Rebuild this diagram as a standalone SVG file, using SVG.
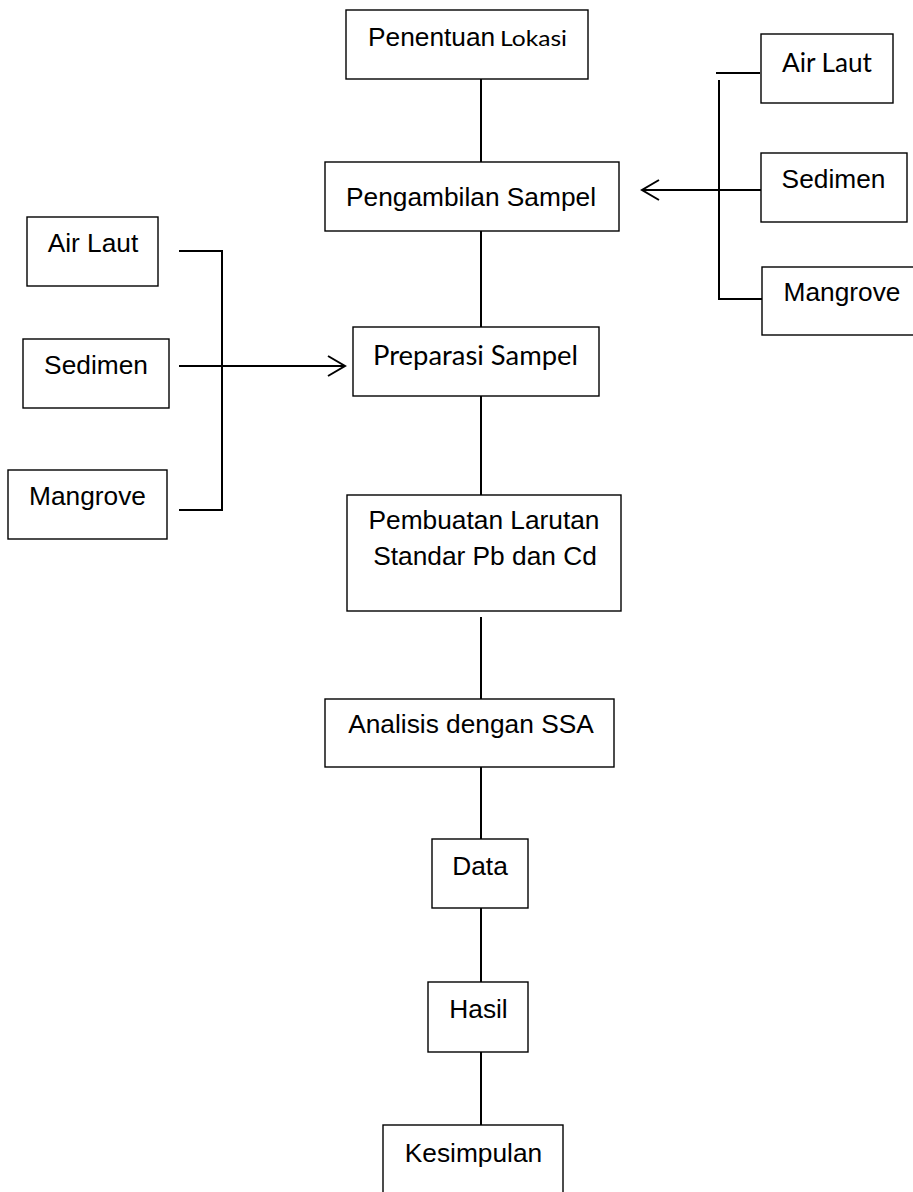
<svg xmlns="http://www.w3.org/2000/svg" width="913" height="1192" viewBox="0 0 913 1192">
<defs>
<style>
.box{fill:#fff;stroke:#000;stroke-width:1.4}
.t{font-family:"Liberation Sans",Arial,sans-serif;font-size:26.3px;fill:#000;text-anchor:middle}
.c{font-family:Lato,"Open Sans",sans-serif;fill:#000}
.ln{stroke:#000;stroke-width:2;fill:none}
</style>
<marker id="arr" markerWidth="20" markerHeight="24" refX="18" refY="11" orient="auto" markerUnits="userSpaceOnUse">
<path d="M1,1 L18,11 L1,21" fill="none" stroke="#000" stroke-width="2"/>
</marker>
</defs>
<rect width="913" height="1192" fill="#fff"/>
<g id="connectors">
<line class="ln" x1="481" y1="79" x2="481" y2="162"/>
<line class="ln" x1="481" y1="231" x2="481" y2="327"/>
<line class="ln" x1="481" y1="396" x2="481" y2="495"/>
<line class="ln" x1="481" y1="617" x2="481" y2="699"/>
<line class="ln" x1="481" y1="767" x2="481" y2="839"/>
<line class="ln" x1="481" y1="908" x2="481" y2="982"/>
<line class="ln" x1="481" y1="1052" x2="481" y2="1125"/>
<line class="ln" x1="716" y1="73" x2="760" y2="73"/>
<polyline class="ln" points="719,80 719,299 762,299"/>
<line class="ln" x1="761" y1="190" x2="642" y2="190" marker-end="url(#arr)"/>
<polyline class="ln" points="179,251 222,251 222,510 179,510"/>
<line class="ln" x1="179" y1="366" x2="345" y2="366" marker-end="url(#arr)"/>
</g>
<g id="penentuan">
<rect class="box" x="346" y="10" width="242" height="69"/>
<text x="368" y="46" style="font-family:'Liberation Sans',Arial,sans-serif;font-size:26.3px"><tspan>Penentuan</tspan><tspan class="c" x="500" style="font-size:22px" textLength="67" lengthAdjust="spacingAndGlyphs">Lokasi</tspan></text>
</g>
<g id="pengambilan">
<rect class="box" x="325" y="162" width="294" height="69"/>
<text class="t" x="471" y="206">Pengambilan Sampel</text>
</g>
<g id="preparasi">
<rect class="box" x="353" y="327" width="246" height="69"/>
<text class="c" x="373" y="365" style="font-size:27px" textLength="205" lengthAdjust="spacingAndGlyphs">Preparasi Sampel</text>
</g>
<g id="pembuatan">
<rect class="box" x="347" y="495" width="274" height="116"/>
<text class="t" x="484" y="529">Pembuatan Larutan</text>
<text class="t" x="485" y="565">Standar Pb dan Cd</text>
</g>
<g id="analisis">
<rect class="box" x="325" y="699" width="289" height="68"/>
<text class="t" x="471" y="733">Analisis dengan SSA</text>
</g>
<g id="data">
<rect class="box" x="432" y="839" width="96" height="69"/>
<text class="t" x="480" y="875">Data</text>
</g>
<g id="hasil">
<rect class="box" x="428" y="982" width="100" height="70"/>
<text class="t" x="478.5" y="1018">Hasil</text>
</g>
<g id="kesimpulan">
<rect class="box" x="383" y="1125" width="180" height="80"/>
<text class="t" x="473.5" y="1162">Kesimpulan</text>
</g>
<g id="air-laut-kanan">
<rect class="box" x="761" y="34" width="132" height="69"/>
<text class="c" x="782" y="72" style="font-size:26.5px" textLength="90" lengthAdjust="spacingAndGlyphs">Air Laut</text>
</g>
<g id="sedimen-kanan">
<rect class="box" x="761" y="153" width="146" height="69"/>
<text class="t" x="833.5" y="188">Sedimen</text>
</g>
<g id="mangrove-kanan">
<rect class="box" x="762" y="267" width="160" height="68"/>
<text class="t" x="842" y="301">Mangrove</text>
</g>
<g id="air-laut-kiri">
<rect class="box" x="27" y="217" width="131" height="69"/>
<text class="t" x="93" y="252">Air Laut</text>
</g>
<g id="sedimen-kiri">
<rect class="box" x="23" y="339" width="146" height="69"/>
<text class="t" x="96" y="374">Sedimen</text>
</g>
<g id="mangrove-kiri">
<rect class="box" x="8" y="470" width="159" height="69"/>
<text class="t" x="87.5" y="505">Mangrove</text>
</g>
</svg>
